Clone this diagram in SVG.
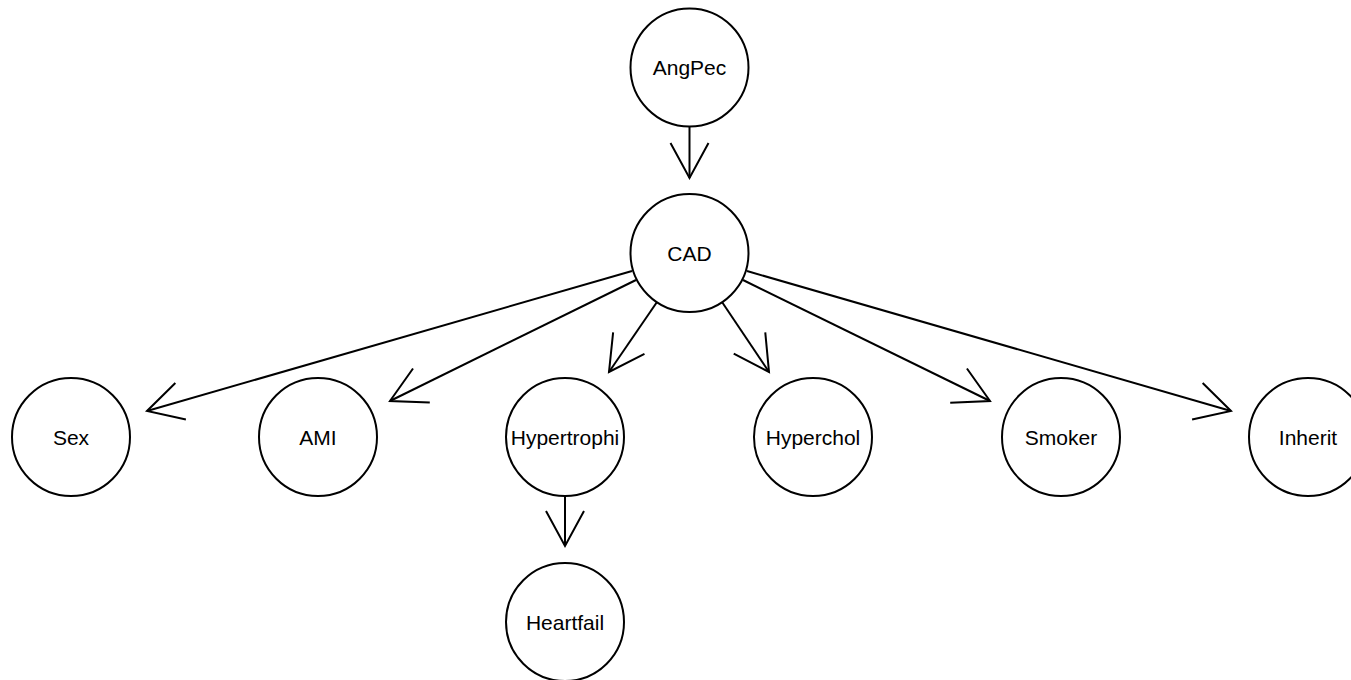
<svg xmlns="http://www.w3.org/2000/svg" width="1351" height="680" viewBox="0 0 1351 680">
  <defs>
    <style>
      .node circle { fill: #ffffff; stroke: #000000; stroke-width: 2; }
      .node text { font-family: "Liberation Sans", Arial, sans-serif; font-size: 21px; fill: #000000; text-anchor: middle; }
      .edge { fill: none; stroke: #000000; stroke-width: 2; marker-end: url(#vee); }
    </style>
    <!-- open V arrowhead, sized in user units -->
    <marker id="vee" markerUnits="userSpaceOnUse" markerWidth="40" markerHeight="44" viewBox="-37 -21 40 42" refX="0" refY="0" orient="auto" overflow="visible">
      <path d="M-35,-19 L0,0 L-35,19" fill="none" stroke="#000000" stroke-width="2" stroke-linejoin="miter"/>
    </marker>
  </defs>
  <rect width="1351" height="680" fill="#ffffff"/>

  <g id="connectors">
    <line class="edge" x1="689.5" y1="127" x2="689.5" y2="178"/>
    <line class="edge" x1="632" y1="271" x2="147" y2="411"/>
    <line class="edge" x1="636" y1="280" x2="390" y2="401"/>
    <line class="edge" x1="657" y1="302" x2="609" y2="372"/>
    <line class="edge" x1="722" y1="302" x2="769" y2="372"/>
    <line class="edge" x1="743" y1="280" x2="990" y2="401"/>
    <line class="edge" x1="747" y1="271" x2="1231" y2="411"/>
    <line class="edge" x1="565" y1="497" x2="565" y2="546"/>
  </g>

  <g id="AngPec" class="node">
    <circle cx="689.5" cy="67.5" r="59"/>
    <text x="689.5" y="75">AngPec</text>
  </g>
  <g id="CAD" class="node">
    <circle cx="689.5" cy="253" r="59"/>
    <text x="689.5" y="260.5">CAD</text>
  </g>
  <g id="Sex" class="node">
    <circle cx="71" cy="437" r="59"/>
    <text x="71" y="445">Sex</text>
  </g>
  <g id="AMI" class="node">
    <circle cx="318" cy="437" r="59"/>
    <text x="318" y="445">AMI</text>
  </g>
  <g id="Hypertrophi" class="node">
    <circle cx="565" cy="437" r="59"/>
    <text x="565" y="445">Hypertrophi</text>
  </g>
  <g id="Hyperchol" class="node">
    <circle cx="813" cy="437" r="59"/>
    <text x="813" y="445">Hyperchol</text>
  </g>
  <g id="Smoker" class="node">
    <circle cx="1061" cy="437" r="59"/>
    <text x="1061" y="445">Smoker</text>
  </g>
  <g id="Inherit" class="node">
    <circle cx="1308" cy="437" r="59"/>
    <text x="1308" y="445">Inherit</text>
  </g>
  <g id="Heartfail" class="node">
    <circle cx="565" cy="622" r="59"/>
    <text x="565" y="629.5">Heartfail</text>
  </g>
</svg>
